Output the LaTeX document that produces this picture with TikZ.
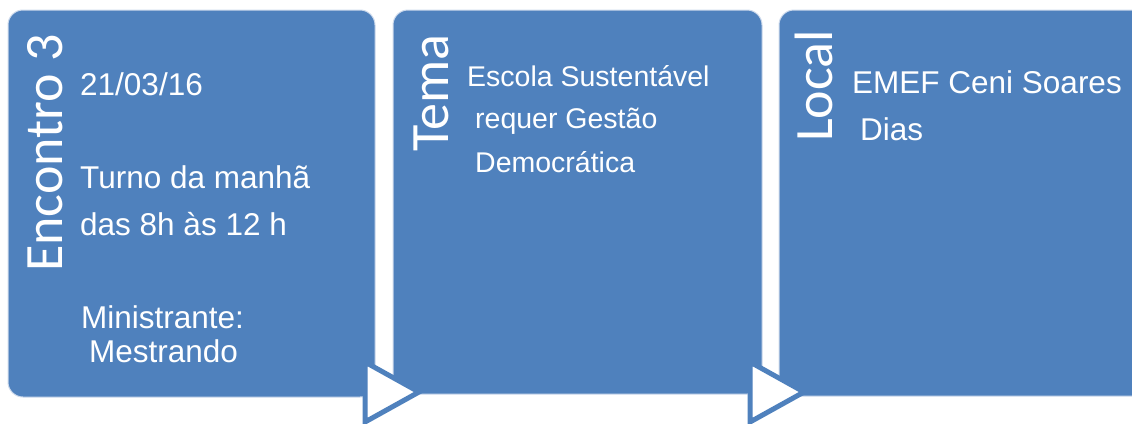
\documentclass[tikz,border=0pt]{standalone}
\usepackage{fontspec}
\setmainfont{Liberation Sans}
\newfontfamily\labelfont{Carlito}
\usepackage{tikz}
\usetikzlibrary{calc}
\definecolor{sa_blue}{RGB}{79, 129, 189}
\definecolor{sa_rim}{RGB}{205, 218, 236}
\tikzstyle{box}=[rectangle,rounded corners=15pt,fill=sa_blue,draw=sa_rim,
  line width=1pt,inner sep=0pt]
\tikzstyle{vlabel}=[rotate=90,anchor=base west,inner sep=0pt,text=white,
  font=\labelfont\fontsize{54}{60}\selectfont]
\tikzstyle{txt}=[anchor=base west,inner sep=0pt,text=white,
  font=\fontsize{31.5}{38}\selectfont]
\tikzstyle{stxt}=[anchor=base west,inner sep=0pt,text=white,
  font=\fontsize{28.5}{34}\selectfont]
\tikzstyle{tri}=[fill=white,draw=sa_blue,line width=5pt,line join=miter]
\tikzstyle{none}=[]

\begin{document}
\begin{tikzpicture}[x=1pt, y=-1pt]
            \useasboundingbox (0, 0) rectangle (1132, 423);
            \node [style=box, minimum width=367pt, minimum height=387pt] (0) at (191.5, 203.5) {};
            \node [style=vlabel] (1) at (62, 272) {Encontro 3};
            \node [style=txt] (2) at (80, 95) {21/03/16};
            \node [style=txt] (3) at (80, 188) {Turno da manhã};
            \node [style=txt] (4) at (80, 235) {das 8h às 12 h};
            \node [style=txt] (5) at (81, 328) {Ministrante:};
            \node [style=txt] (6) at (89, 362) {Mestrando};
            \node [style=box, minimum width=369pt, minimum height=384pt] (7) at (577.5, 202) {};
            \node [style=vlabel] (8) at (448, 152) {Tema};
            \node [style=stxt] (9) at (467, 86) {Escola Sustentável};
            \node [style=stxt] (10) at (475, 128) {requer Gestão};
            \node [style=stxt] (11) at (475, 172) {Democrática};
            \node [style=box, minimum width=372pt, minimum height=386pt] (12) at (965, 203) {};
            \node [style=vlabel] (13) at (832, 142) {Local};
            \node [style=txt] (14) at (852, 93) {EMEF Ceni Soares};
            \node [style=txt] (15) at (860, 140) {Dias};
            \coordinate (16) at (365, 362);
            \coordinate (17) at (419, 392);
            \coordinate (18) at (365, 422);
            \coordinate (19) at (750, 362);
            \coordinate (20) at (804, 392);
            \coordinate (21) at (750, 422);
            \draw [style=tri] (16) -- (17) -- (18) -- cycle;
            \draw [style=tri] (19) -- (20) -- (21) -- cycle;
    \end{tikzpicture}
\end{document}
